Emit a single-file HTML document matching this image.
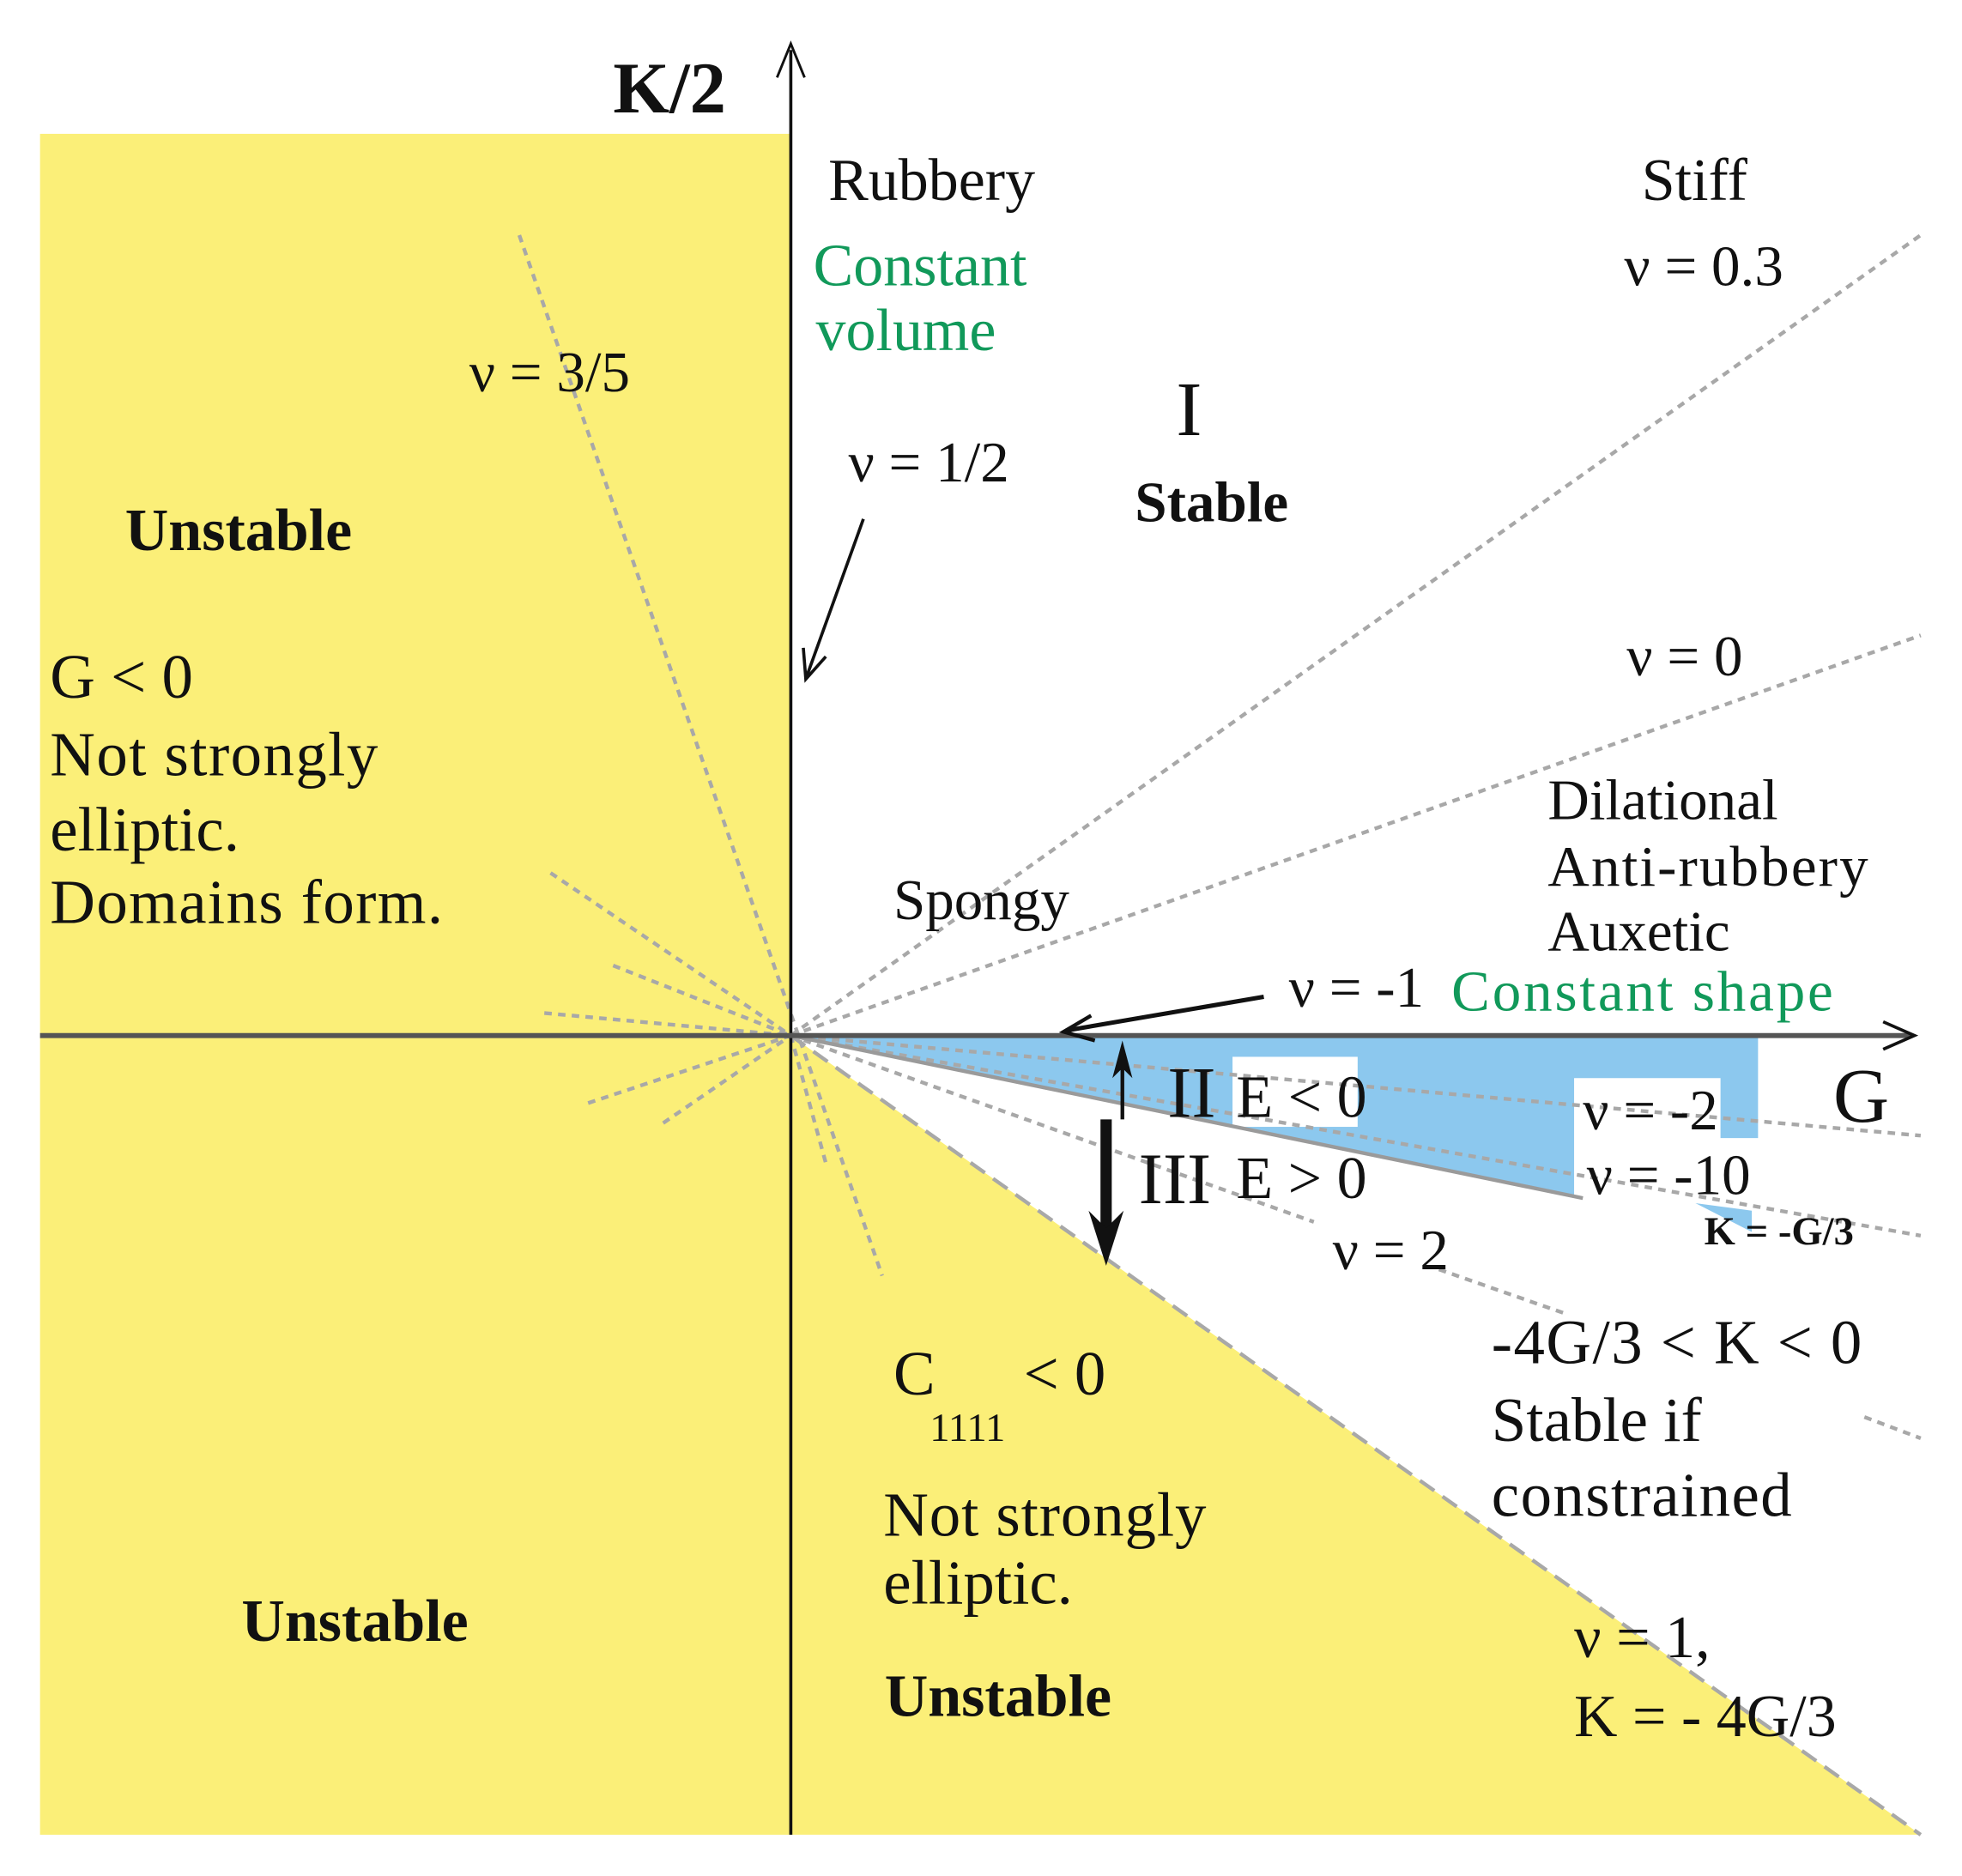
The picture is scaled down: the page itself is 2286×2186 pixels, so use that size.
<!DOCTYPE html>
<html><head><meta charset="utf-8"><style>
html,body{margin:0;padding:0;background:#fff;}
svg{display:block;}
text{font-family:"Liberation Serif",serif;fill:#111;}
.g{fill:#11995a;}
.b{font-weight:bold;}
</style></head><body>
<svg width="2286" height="2186" viewBox="0 0 1568 1500" preserveAspectRatio="none" xmlns="http://www.w3.org/2000/svg">
<rect x="32" y="107" width="600" height="1360" fill="#fbef78"/>
<polygon points="632,828 1535,1467 632,1467" fill="#fbef78"/>
<polygon points="632,828 1405,828 1405,910 1375,910 1375,862 1258,862 1258,957" fill="#8cc8ee"/>
<polygon points="1355,962 1400,968 1400,985" fill="#8cc8ee"/>
<rect x="985" y="845" width="100" height="56" fill="#fff"/>
<g stroke="#a8a8a8" stroke-width="3" stroke-dasharray="6,5" fill="none">
<line x1="632" y1="828" x2="1535" y2="188"/>
<line x1="632" y1="828" x2="1535" y2="508"/>
<line x1="632" y1="828" x2="1535" y2="908"/>
<line x1="632" y1="828" x2="1535" y2="988"/>
<line x1="632" y1="828" x2="1050" y2="977"/>
<line x1="1150" y1="1015" x2="1250" y2="1050"/>
<line x1="1490" y1="1133" x2="1535" y2="1150"/>
<line x1="415" y1="188" x2="705" y2="1020"/>
<line x1="440" y1="698" x2="632" y2="828"/>
<line x1="490" y1="772" x2="632" y2="828"/>
<line x1="435" y1="810" x2="632" y2="828"/>
<line x1="470" y1="882" x2="632" y2="828"/>
<line x1="530" y1="898" x2="632" y2="828"/>
<line x1="632" y1="828" x2="660" y2="930"/>
</g>
<line x1="632" y1="828" x2="1265" y2="958" stroke="#9a9a9a" stroke-width="3"/>
<line x1="632" y1="828" x2="1535" y2="1467" stroke="#a8a8a8" stroke-width="3" stroke-dasharray="14,8"/>
<line x1="632" y1="40" x2="632" y2="1467" stroke="#111" stroke-width="2.5"/>
<polyline points="621,62 632,35 643,62" fill="none" stroke="#111" stroke-width="2"/>
<line x1="32" y1="828" x2="1528" y2="828" stroke="#555" stroke-width="4"/>
<polyline points="1505,817 1530,828 1505,839" fill="none" stroke="#111" stroke-width="2.5"/>
<line x1="690" y1="415" x2="645" y2="540" stroke="#111" stroke-width="2.5"/>
<polyline points="642,518 644,543 660,525" fill="none" stroke="#111" stroke-width="2.5"/>
<line x1="1010" y1="797" x2="852" y2="824" stroke="#111" stroke-width="3.5"/>
<polyline points="872,812 850,825 875,832" fill="none" stroke="#111" stroke-width="3"/>
<line x1="897" y1="895" x2="897" y2="840" stroke="#111" stroke-width="3"/>
<polygon points="897,832 889,862 897,854 905,862" fill="#111"/>
<line x1="884" y1="895" x2="884" y2="990" stroke="#111" stroke-width="9"/>
<polygon points="884,1012 870,968 884,982 898,968" fill="#111"/>
<text x="490" y="90" font-size="58" class="b">K/2</text>
<text x="662" y="160" font-size="48">Rubbery</text>
<text x="650" y="228" font-size="48" class="g">Constant</text>
<text x="652" y="280" font-size="48" class="g">volume</text>
<text x="1312" y="160" font-size="48">Stiff</text>
<text x="1298" y="228" font-size="46">ν =  0.3</text>
<text x="375" y="313" font-size="46">ν = 3/5</text>
<text x="678" y="385" font-size="46">ν = 1/2</text>
<text x="940" y="348" font-size="62">I</text>
<text x="907" y="417" font-size="46" class="b">Stable</text>
<text x="100" y="440" font-size="48" class="b">Unstable</text>
<text x="40" y="558" font-size="50">G &lt;  0</text>
<text x="40" y="620" font-size="50" textLength="262">Not strongly</text>
<text x="40" y="680" font-size="50">elliptic.</text>
<text x="40" y="738" font-size="50" textLength="314">Domains form.</text>
<text x="1300" y="540" font-size="46">ν = 0</text>
<text x="1237" y="655" font-size="46">Dilational</text>
<text x="1237" y="708" font-size="46" textLength="256">Anti-rubbery</text>
<text x="1237" y="760" font-size="46">Auxetic</text>
<text x="714" y="735" font-size="46">Spongy</text>
<text x="1030" y="805" font-size="46">ν = -1</text>
<text x="1160" y="808" font-size="46" class="g" textLength="305">Constant shape</text>
<text x="933" y="893" font-size="58">II</text>
<text x="988" y="893" font-size="48">E &lt; 0</text>
<text x="1465" y="897" font-size="62">G</text>
<text x="1265" y="903" font-size="46">ν = -2</text>
<text x="1268" y="955" font-size="46">ν = -10</text>
<text x="910" y="962" font-size="58">III</text>
<text x="988" y="958" font-size="48">E &gt; 0</text>
<text x="1362" y="995" font-size="32" class="b">K = -G/3</text>
<text x="1065" y="1015" font-size="46">ν = 2</text>
<text x="1192" y="1090" font-size="50" textLength="296">-4G/3 &lt; K &lt; 0</text>
<text x="1192" y="1152" font-size="50">Stable if</text>
<text x="1192" y="1212" font-size="50" textLength="240">constrained</text>
<text x="714" y="1115" font-size="50">C</text>
<text x="743" y="1152" font-size="32">1111</text>
<text x="818" y="1115" font-size="50">&lt; 0</text>
<text x="706" y="1228" font-size="50" textLength="258">Not strongly</text>
<text x="706" y="1282" font-size="50">elliptic.</text>
<text x="707" y="1372" font-size="48" class="b">Unstable</text>
<text x="193" y="1312" font-size="48" class="b">Unstable</text>
<text x="1258" y="1325" font-size="48">ν = 1,</text>
<text x="1258" y="1388" font-size="48">K = - 4G/3</text>
</svg>
</body></html>
